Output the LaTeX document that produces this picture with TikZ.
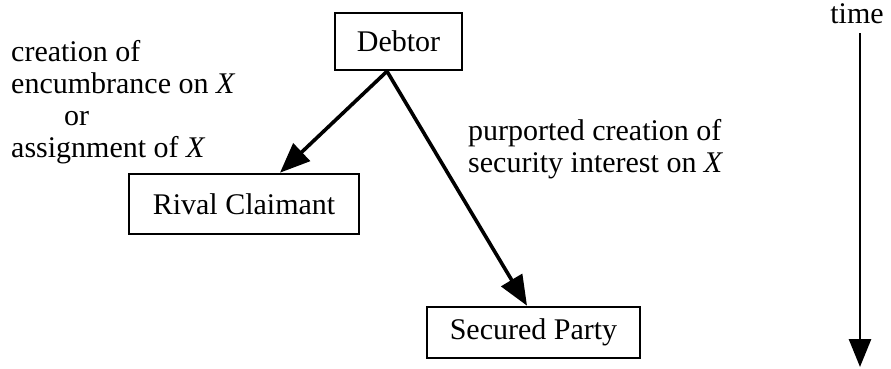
\documentclass[tikz,border=0pt]{standalone}
\usepackage{fontspec}
\setmainfont{Liberation Serif}
\usetikzlibrary{arrows.meta}
\begin{document}
\begin{tikzpicture}[x=1pt,y=-1pt,
  every node/.style={font=\fontsize{30}{31.7}\selectfont},
  party/.style={draw, line width=2.6pt, inner sep=0pt, align=center},
  conn/.style={line width=3.6pt, -{Triangle[length=30pt,width=24pt]}},
  timearrow/.style={line width=2.8pt, -{Triangle[length=28pt,width=22pt]}},
  lbl/.style={inner sep=0pt, align=left, anchor=base west}]
\useasboundingbox (0,0) rectangle (891,368);
\node[party, minimum width=127pt, minimum height=57pt] (debtor) at (398.5,41.5) {Debtor};
\node[party, minimum width=230pt, minimum height=60pt] (rival) at (244,204) {Rival Claimant};
\node[party, minimum width=213pt, minimum height=51pt] (secured) at (533.5,332.5) {Secured Party};
\draw[conn] ([xshift=-11.5pt]debtor.south) -- ([xshift=36pt]rival.north);
\draw[conn] ([xshift=-11.5pt]debtor.south) -- ([xshift=-6.5pt]secured.north);
\node[lbl] (leftlabel) at (11,157) {creation of\\encumbrance on \textit{X}\\\hspace*{53pt}or\\assignment of \textit{X}};
\node[lbl] (rightlabel) at (468,172) {purported creation of\\security interest on \textit{X}};
\node[inner sep=0pt, anchor=base] (time) at (857,23) {time};
\coordinate (timeend) at (860,367);
\draw[timearrow] (860,33) -- (timeend);
\end{tikzpicture}
\end{document}
